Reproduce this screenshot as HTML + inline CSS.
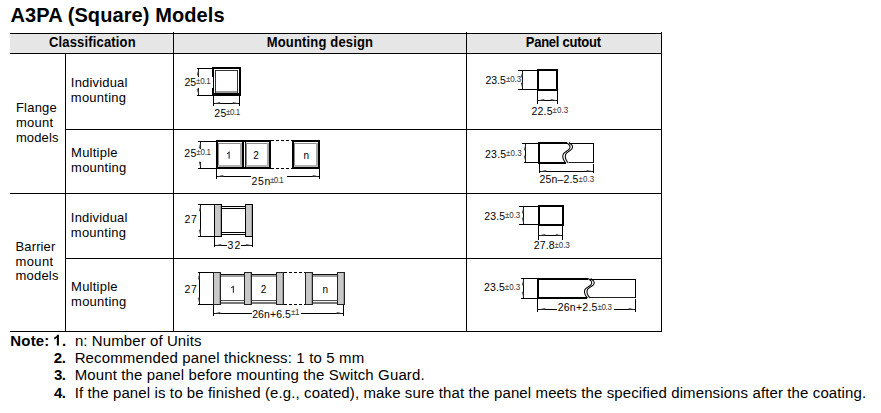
<!DOCTYPE html>
<html><head><meta charset="utf-8"><style>
html,body{margin:0;padding:0;background:#fff;width:881px;height:413px;overflow:hidden}
svg{display:block}
text{font-family:"Liberation Sans",sans-serif}
</style></head><body>
<svg width="881" height="413" viewBox="0 0 881 413">
<rect width="881" height="413" fill="#fff"/>
<g shape-rendering="crispEdges">
<rect x="10" y="34" width="651" height="19" fill="#e6e6e6"/>
<rect x="10" y="33" width="652" height="1" fill="#000"/>
<rect x="10" y="53" width="652" height="1" fill="#000"/>
<rect x="65" y="129" width="597" height="1" fill="#000"/>
<rect x="10" y="193" width="652" height="1" fill="#000"/>
<rect x="65" y="258" width="597" height="1" fill="#000"/>
<rect x="10" y="331" width="652" height="1" fill="#000"/>
<rect x="65" y="53" width="1" height="279" fill="#000"/>
<rect x="173" y="32" width="1" height="300" fill="#000"/>
<rect x="466" y="32" width="1" height="300" fill="#000"/>
<rect x="661" y="32" width="1" height="300" fill="#000"/>
<rect x="212" y="67" width="29" height="29" fill="#000"/>
<rect x="214" y="69" width="25" height="24" fill="#fff"/>
<rect x="215" y="70" width="23" height="23" fill="#333"/>
<rect x="216" y="71" width="21" height="21" fill="#fff"/>
<rect x="216" y="91" width="21" height="2" fill="#9a9a9a"/>
<rect x="212" y="77" width="1" height="11" fill="#fff"/>
<rect x="197" y="68" width="16" height="1" fill="#000"/>
<rect x="197" y="95" width="16" height="1" fill="#000"/>
<rect x="198" y="68" width="1" height="9" fill="#000"/>
<rect x="198" y="88" width="1" height="8" fill="#000"/>
<rect x="213" y="96" width="1" height="10" fill="#000"/>
<rect x="239" y="96" width="1" height="10" fill="#000"/>
<rect x="213" y="103" width="27" height="1" fill="#000"/>
<rect x="216" y="140" width="28" height="29" fill="#000"/>
<rect x="218" y="142" width="24" height="25" fill="#fff"/>
<rect x="218" y="143" width="24" height="1" fill="#8c8c8c"/>
<rect x="218" y="143" width="1" height="23" fill="#8c8c8c"/>
<rect x="240" y="143" width="2" height="23" fill="#a8a8a8"/>
<rect x="218" y="165" width="24" height="2" fill="#b4b4b4"/>
<rect x="244" y="140" width="27" height="29" fill="#000"/>
<rect x="246" y="142" width="23" height="25" fill="#fff"/>
<rect x="246" y="143" width="23" height="1" fill="#8c8c8c"/>
<rect x="246" y="143" width="1" height="23" fill="#8c8c8c"/>
<rect x="267" y="143" width="2" height="23" fill="#a8a8a8"/>
<rect x="246" y="165" width="23" height="2" fill="#b4b4b4"/>
<rect x="292" y="140" width="28" height="29" fill="#000"/>
<rect x="294" y="142" width="24" height="25" fill="#fff"/>
<rect x="294" y="143" width="24" height="1" fill="#8c8c8c"/>
<rect x="294" y="143" width="1" height="23" fill="#8c8c8c"/>
<rect x="316" y="143" width="2" height="23" fill="#a8a8a8"/>
<rect x="294" y="165" width="24" height="2" fill="#b4b4b4"/>
<rect x="244" y="142" width="1" height="25" fill="#fff"/>
<rect x="245" y="143" width="1" height="23" fill="#222"/>
<rect x="198" y="141" width="18" height="1" fill="#000"/>
<rect x="198" y="168" width="18" height="1" fill="#000"/>
<rect x="200" y="141" width="1" height="8" fill="#000"/>
<rect x="200" y="162" width="1" height="7" fill="#000"/>
<rect x="216" y="169" width="1" height="10" fill="#000"/>
<rect x="319" y="169" width="1" height="10" fill="#000"/>
<rect x="216" y="176" width="35" height="1" fill="#000"/>
<rect x="287" y="176" width="33" height="1" fill="#000"/>
<rect x="214" y="204" width="8" height="33" fill="#000"/>
<rect x="215" y="205" width="6" height="31" fill="#c8c8c8"/>
<rect x="220" y="205" width="1" height="31" fill="#9e9e9e"/>
<rect x="245" y="204" width="8" height="33" fill="#000"/>
<rect x="246" y="205" width="6" height="31" fill="#c8c8c8"/>
<rect x="251" y="205" width="1" height="31" fill="#9e9e9e"/>
<rect x="222" y="206" width="23" height="1" fill="#000"/>
<rect x="222" y="208" width="23" height="1" fill="#000"/>
<rect x="222" y="232" width="23" height="1" fill="#000"/>
<rect x="222" y="234" width="23" height="1" fill="#000"/>
<rect x="222" y="207" width="23" height="1" fill="#f4f4f4"/>
<rect x="198" y="204" width="16" height="1" fill="#000"/>
<rect x="198" y="236" width="16" height="1" fill="#000"/>
<rect x="200" y="204" width="1" height="33" fill="#000"/>
<rect x="214" y="237" width="1" height="10" fill="#000"/>
<rect x="252" y="237" width="1" height="10" fill="#000"/>
<rect x="214" y="245" width="13" height="1" fill="#000"/>
<rect x="241" y="245" width="12" height="1" fill="#000"/>
<rect x="213" y="272" width="8" height="33" fill="#222"/>
<rect x="214" y="273" width="6" height="31" fill="#c8c8c8"/>
<rect x="219" y="273" width="1" height="31" fill="#9e9e9e"/>
<rect x="244" y="272" width="8" height="33" fill="#222"/>
<rect x="245" y="273" width="6" height="31" fill="#c8c8c8"/>
<rect x="250" y="273" width="1" height="31" fill="#9e9e9e"/>
<rect x="276" y="272" width="8" height="33" fill="#222"/>
<rect x="277" y="273" width="6" height="31" fill="#c8c8c8"/>
<rect x="282" y="273" width="1" height="31" fill="#9e9e9e"/>
<rect x="305" y="272" width="8" height="33" fill="#222"/>
<rect x="306" y="273" width="6" height="31" fill="#c8c8c8"/>
<rect x="311" y="273" width="1" height="31" fill="#9e9e9e"/>
<rect x="337" y="272" width="8" height="33" fill="#222"/>
<rect x="338" y="273" width="6" height="31" fill="#c8c8c8"/>
<rect x="343" y="273" width="1" height="31" fill="#9e9e9e"/>
<rect x="221" y="274" width="23" height="1" fill="#111"/>
<rect x="221" y="275" width="23" height="2" fill="#a0a0a0"/>
<rect x="221" y="300" width="23" height="1" fill="#555"/>
<rect x="221" y="301" width="23" height="1" fill="#f0f0f0"/>
<rect x="221" y="302" width="23" height="2" fill="#777"/>
<rect x="252" y="274" width="24" height="1" fill="#111"/>
<rect x="252" y="275" width="24" height="2" fill="#a0a0a0"/>
<rect x="252" y="300" width="24" height="1" fill="#555"/>
<rect x="252" y="301" width="24" height="1" fill="#f0f0f0"/>
<rect x="252" y="302" width="24" height="2" fill="#777"/>
<rect x="313" y="274" width="24" height="1" fill="#111"/>
<rect x="313" y="275" width="24" height="2" fill="#a0a0a0"/>
<rect x="313" y="300" width="24" height="1" fill="#555"/>
<rect x="313" y="301" width="24" height="1" fill="#f0f0f0"/>
<rect x="313" y="302" width="24" height="2" fill="#777"/>
<rect x="198" y="272" width="15" height="1" fill="#000"/>
<rect x="198" y="304" width="15" height="1" fill="#000"/>
<rect x="199" y="272" width="1" height="33" fill="#000"/>
<rect x="213" y="305" width="1" height="11" fill="#000"/>
<rect x="343" y="305" width="1" height="11" fill="#000"/>
<rect x="213" y="313" width="39" height="1" fill="#000"/>
<rect x="301" y="313" width="43" height="1" fill="#000"/>
<rect x="537" y="69" width="21" height="22" fill="#000"/>
<rect x="539" y="71" width="17" height="18" fill="#fff"/>
<rect x="518" y="70" width="19" height="1" fill="#000"/>
<rect x="518" y="89" width="19" height="1" fill="#000"/>
<rect x="522" y="70" width="1" height="20" fill="#000"/>
<rect x="537" y="91" width="1" height="13" fill="#000"/>
<rect x="557" y="91" width="1" height="13" fill="#000"/>
<rect x="537" y="100" width="21" height="1" fill="#000"/>
<rect x="538" y="205" width="26" height="21" fill="#000"/>
<rect x="540" y="207" width="22" height="17" fill="#fff"/>
<rect x="519" y="206" width="19" height="1" fill="#000"/>
<rect x="519" y="224" width="19" height="1" fill="#000"/>
<rect x="523" y="206" width="1" height="19" fill="#000"/>
<rect x="538" y="226" width="1" height="14" fill="#000"/>
<rect x="562" y="226" width="1" height="14" fill="#000"/>
<rect x="538" y="235" width="25" height="1" fill="#000"/>
<rect x="538" y="142" width="2" height="22" fill="#000"/>
<rect x="538" y="142" width="28.5" height="2" fill="#000"/>
<rect x="538" y="162" width="27.5" height="2" fill="#000"/>
<rect x="568.5" y="143" width="25.5" height="1" fill="#000"/>
<rect x="568.5" y="162" width="25.5" height="1" fill="#222"/>
<rect x="593" y="143" width="1" height="20" fill="#000"/>
<rect x="522" y="143" width="16" height="1" fill="#000"/>
<rect x="524" y="162" width="14" height="1" fill="#000"/>
<rect x="525" y="143" width="1" height="20" fill="#000"/>
<rect x="539" y="164" width="1" height="9" fill="#000"/>
<rect x="593" y="164" width="1" height="9" fill="#000"/>
<rect x="539" y="171" width="55" height="1" fill="#000"/>
<rect x="537" y="278" width="2" height="21" fill="#000"/>
<rect x="537" y="278" width="51.200000000000045" height="2" fill="#000"/>
<rect x="537" y="297" width="50.200000000000045" height="2" fill="#000"/>
<rect x="590.2" y="279" width="45.799999999999955" height="1" fill="#000"/>
<rect x="590.2" y="297" width="45.799999999999955" height="1" fill="#222"/>
<rect x="635" y="279" width="1" height="19" fill="#000"/>
<rect x="521" y="278" width="16" height="1" fill="#000"/>
<rect x="521" y="298" width="16" height="1" fill="#000"/>
<rect x="523" y="278" width="1" height="20" fill="#000"/>
<rect x="537" y="299" width="1" height="13" fill="#000"/>
<rect x="635" y="299" width="1" height="13" fill="#000"/>
<rect x="538" y="309" width="19" height="1" fill="#000"/>
<rect x="614" y="309" width="22" height="1" fill="#000"/>
</g>
<path d="M198.5,69 L196.9,74.5 L197.4,75.5 L198.5,75.5 Z" stroke="none" stroke-width="1" fill="#555" />
<path d="M198.5,95 L196.9,89.5 L197.4,88.5 L198.5,88.5 Z" stroke="none" stroke-width="1" fill="#555" />
<path d="M214,103.5 L219.5,101.9 L220.5,102.4 L220.5,103.5 Z" stroke="none" stroke-width="1" fill="#555" />
<path d="M239,103.5 L233.5,101.9 L232.5,102.4 L232.5,103.5 Z" stroke="none" stroke-width="1" fill="#555" />
<path d="M271,140.5 H292 M271,168.5 H292" stroke="#000" stroke-width="1" stroke-dasharray="3,2" fill="none"/>
<path d="M200.5,142 L198.9,147.5 L199.4,148.5 L200.5,148.5 Z" stroke="none" stroke-width="1" fill="#555" />
<path d="M200.5,168 L198.9,162.5 L199.4,161.5 L200.5,161.5 Z" stroke="none" stroke-width="1" fill="#555" />
<path d="M217,176.5 L222.5,174.9 L223.5,175.4 L223.5,176.5 Z" stroke="none" stroke-width="1" fill="#555" />
<path d="M319,176.5 L313.5,174.9 L312.5,175.4 L312.5,176.5 Z" stroke="none" stroke-width="1" fill="#555" />
<path d="M200.5,205 L198.9,210.5 L199.4,211.5 L200.5,211.5 Z" stroke="none" stroke-width="1" fill="#555" />
<path d="M200.5,236 L198.9,230.5 L199.4,229.5 L200.5,229.5 Z" stroke="none" stroke-width="1" fill="#555" />
<path d="M215,245.5 L220.5,243.9 L221.5,244.4 L221.5,245.5 Z" stroke="none" stroke-width="1" fill="#555" />
<path d="M252,245.5 L246.5,243.9 L245.5,244.4 L245.5,245.5 Z" stroke="none" stroke-width="1" fill="#555" />
<path d="M284,272.5 H305 M284,304.5 H305" stroke="#000" stroke-width="1" stroke-dasharray="3,2" fill="none"/>
<path d="M199.5,273 L197.9,278.5 L198.4,279.5 L199.5,279.5 Z" stroke="none" stroke-width="1" fill="#555" />
<path d="M199.5,304 L197.9,298.5 L198.4,297.5 L199.5,297.5 Z" stroke="none" stroke-width="1" fill="#555" />
<path d="M214,313.5 L219.5,311.9 L220.5,312.4 L220.5,313.5 Z" stroke="none" stroke-width="1" fill="#555" />
<path d="M343,313.5 L337.5,311.9 L336.5,312.4 L336.5,313.5 Z" stroke="none" stroke-width="1" fill="#555" />
<path d="M522.5,71 L520.9,76.5 L521.4,77.5 L522.5,77.5 Z" stroke="none" stroke-width="1" fill="#555" />
<path d="M522.5,89 L520.9,83.5 L521.4,82.5 L522.5,82.5 Z" stroke="none" stroke-width="1" fill="#555" />
<path d="M538,100.5 L543.5,98.9 L544.5,99.4 L544.5,100.5 Z" stroke="none" stroke-width="1" fill="#555" />
<path d="M557,100.5 L551.5,98.9 L550.5,99.4 L550.5,100.5 Z" stroke="none" stroke-width="1" fill="#555" />
<path d="M523.5,207 L521.9,212.5 L522.4,213.5 L523.5,213.5 Z" stroke="none" stroke-width="1" fill="#555" />
<path d="M523.5,224 L521.9,218.5 L522.4,217.5 L523.5,217.5 Z" stroke="none" stroke-width="1" fill="#555" />
<path d="M539,235.5 L544.5,233.9 L545.5,234.4 L545.5,235.5 Z" stroke="none" stroke-width="1" fill="#555" />
<path d="M562,235.5 L556.5,233.9 L555.5,234.4 L555.5,235.5 Z" stroke="none" stroke-width="1" fill="#555" />
<path d="M566.50,142.50 C566.98,142.94 568.82,144.33 569.40,145.11 C569.98,145.90 570.08,146.50 570.00,147.22 C569.92,147.94 569.48,148.76 568.90,149.43 C568.32,150.10 567.32,150.62 566.50,151.24 C565.68,151.86 564.60,152.48 564.00,153.15 C563.40,153.82 563.07,154.42 562.90,155.26 C562.73,156.10 562.75,157.19 563.00,158.18 C563.25,159.16 563.93,160.39 564.40,161.19 C564.87,162.00 565.57,162.70 565.80,163.00" stroke="#000" stroke-width="1.05" fill="none" />
<path d="M569.00,142.50 C569.48,142.94 571.32,144.33 571.90,145.11 C572.48,145.90 572.58,146.50 572.50,147.22 C572.42,147.94 571.98,148.76 571.40,149.43 C570.82,150.10 569.82,150.62 569.00,151.24 C568.18,151.86 567.10,152.48 566.50,153.15 C565.90,153.82 565.57,154.42 565.40,155.26 C565.23,156.10 565.25,157.19 565.50,158.18 C565.75,159.16 566.43,160.39 566.90,161.19 C567.37,162.00 568.07,162.70 568.30,163.00" stroke="#000" stroke-width="1.05" fill="none" />
<path d="M525.5,144 L523.9,149.5 L524.4,150.5 L525.5,150.5 Z" stroke="none" stroke-width="1" fill="#555" />
<path d="M525.5,162 L523.9,156.5 L524.4,155.5 L525.5,155.5 Z" stroke="none" stroke-width="1" fill="#555" />
<path d="M540,171.5 L545.5,169.9 L546.5,170.4 L546.5,171.5 Z" stroke="none" stroke-width="1" fill="#555" />
<path d="M593,171.5 L587.5,169.9 L586.5,170.4 L586.5,171.5 Z" stroke="none" stroke-width="1" fill="#555" />
<path d="M588.20,278.50 C588.68,278.91 590.52,280.24 591.10,280.99 C591.68,281.73 591.78,282.31 591.70,282.99 C591.62,283.68 591.18,284.46 590.60,285.10 C590.02,285.73 589.02,286.23 588.20,286.82 C587.38,287.41 586.30,288.00 585.70,288.63 C585.10,289.27 584.77,289.84 584.60,290.64 C584.43,291.44 584.45,292.47 584.70,293.41 C584.95,294.35 585.63,295.51 586.10,296.28 C586.57,297.04 587.27,297.71 587.50,298.00" stroke="#000" stroke-width="1.05" fill="none" />
<path d="M590.70,278.50 C591.18,278.91 593.02,280.24 593.60,280.99 C594.18,281.73 594.28,282.31 594.20,282.99 C594.12,283.68 593.68,284.46 593.10,285.10 C592.52,285.73 591.52,286.23 590.70,286.82 C589.88,287.41 588.80,288.00 588.20,288.63 C587.60,289.27 587.27,289.84 587.10,290.64 C586.93,291.44 586.95,292.47 587.20,293.41 C587.45,294.35 588.13,295.51 588.60,296.28 C589.07,297.04 589.77,297.71 590.00,298.00" stroke="#000" stroke-width="1.05" fill="none" />
<path d="M523.5,279 L521.9,284.5 L522.4,285.5 L523.5,285.5 Z" stroke="none" stroke-width="1" fill="#555" />
<path d="M523.5,298 L521.9,292.5 L522.4,291.5 L523.5,291.5 Z" stroke="none" stroke-width="1" fill="#555" />
<path d="M539,309.5 L544.5,307.9 L545.5,308.4 L545.5,309.5 Z" stroke="none" stroke-width="1" fill="#555" />
<path d="M635,309.5 L629.5,307.9 L628.5,308.4 L628.5,309.5 Z" stroke="none" stroke-width="1" fill="#555" />
<g fill="#000">
<text transform="translate(10.50 22.00) scale(1 1.04)" font-size="20" font-weight="bold" letter-spacing="0.105">A3PA (Square) Models</text>
<text transform="translate(49.00 46.80) scale(1 1.07)" font-size="13" font-weight="bold" letter-spacing="0.165">Classification</text>
<text transform="translate(266.75 46.80) scale(1 1.07)" font-size="13" font-weight="bold" letter-spacing="0.171">Mounting design</text>
<text transform="translate(525.75 46.80) scale(1 1.07)" font-size="13" font-weight="bold" letter-spacing="-0.241">Panel cutout</text>
<text transform="translate(15.90 111.70) scale(1 1.05)" font-size="13" letter-spacing="0.230">Flange</text>
<text transform="translate(15.90 126.90) scale(1 1.05)" font-size="13" letter-spacing="0.287">mount</text>
<text transform="translate(15.90 142.30) scale(1 1.05)" font-size="13" letter-spacing="0.130">models</text>
<text transform="translate(15.60 250.50) scale(1 1.05)" font-size="13" letter-spacing="0.108">Barrier</text>
<text transform="translate(15.60 265.50) scale(1 1.05)" font-size="13" letter-spacing="0.362">mount</text>
<text transform="translate(15.60 280.40) scale(1 1.05)" font-size="13" letter-spacing="0.190">models</text>
<text transform="translate(70.85 86.70) scale(1 1.05)" font-size="13" letter-spacing="0.189">Individual</text>
<text transform="translate(70.85 102.30) scale(1 1.05)" font-size="13" letter-spacing="0.243">mounting</text>
<text transform="translate(71.10 156.70) scale(1 1.05)" font-size="13" letter-spacing="0.236">Multiple</text>
<text transform="translate(71.10 172.30) scale(1 1.05)" font-size="13" letter-spacing="0.243">mounting</text>
<text transform="translate(70.85 221.50) scale(1 1.05)" font-size="13" letter-spacing="0.189">Individual</text>
<text transform="translate(70.85 236.80) scale(1 1.05)" font-size="13" letter-spacing="0.243">mounting</text>
<text transform="translate(71.10 290.80) scale(1 1.05)" font-size="13" letter-spacing="0.236">Multiple</text>
<text transform="translate(71.10 305.80) scale(1 1.05)" font-size="13" letter-spacing="0.243">mounting</text>
<text transform="translate(10.30 345.60) scale(1 1.03)" font-size="15" font-weight="bold" letter-spacing="0.175">Note:</text>
<text transform="translate(61.90 345.60) scale(1 1.03)" font-size="15" font-weight="bold">.</text>
<text transform="translate(74.90 345.60) scale(1 1.03)" font-size="15" letter-spacing="0.094">n: Number of Units</text>
<text transform="translate(53.70 362.80) scale(1 1.03)" font-size="15" font-weight="bold" letter-spacing="-0.400">2.</text>
<text transform="translate(74.65 362.80) scale(1 1.03)" font-size="15" letter-spacing="0.145">Recommended panel thickness: 1 to 5 mm</text>
<text transform="translate(53.95 380.30) scale(1 1.03)" font-size="15" font-weight="bold" letter-spacing="-0.650">3.</text>
<text transform="translate(74.65 380.30) scale(1 1.03)" font-size="15" letter-spacing="0.138">Mount the panel before mounting the Switch Guard.</text>
<text transform="translate(53.95 397.60) scale(1 1.03)" font-size="15" font-weight="bold" letter-spacing="-0.650">4.</text>
<text transform="translate(74.65 397.60) scale(1 1.03)" font-size="15" letter-spacing="0.116">If the panel is to be finished (e.g., coated), make sure that the panel meets the specified dimensions after the coating.</text>
<text transform="translate(184.50 85.50) scale(1 1.03)" font-size="10.5" letter-spacing="-0.050">25</text>
<text transform="translate(196.05 84.00) scale(1 1.15)" font-size="8" letter-spacing="-0.300" fill="#333">±0.1</text>
<text transform="translate(214.20 116.70) scale(1 1.03)" font-size="10.5" letter-spacing="0.350">25</text>
<text transform="translate(226.05 115.00) scale(1 1.15)" font-size="8" letter-spacing="-0.433" fill="#333">±0.1</text>
<text transform="translate(184.30 156.50) scale(1 1.03)" font-size="10.5" letter-spacing="0.450">25</text>
<text transform="translate(196.35 154.90) scale(1 1.15)" font-size="8" letter-spacing="-0.267" fill="#333">±0.1</text>
<text transform="translate(253.30 158.70) scale(1 1.03)" font-size="10">2</text>
<text transform="translate(303.40 158.80) scale(1 1.03)" font-size="10">n</text>
<text transform="translate(251.60 184.60) scale(1 1.03)" font-size="10.5" letter-spacing="0.600">25n</text>
<text transform="translate(270.05 182.90) scale(1 1.15)" font-size="8" letter-spacing="-0.600" fill="#333">±0.1</text>
<text transform="translate(184.50 222.70) scale(1 1.03)" font-size="10.5" letter-spacing="0.550">27</text>
<text transform="translate(227.40 248.70) scale(1 1.03)" font-size="10.5" letter-spacing="1.150">32</text>
<text transform="translate(184.40 292.50) scale(1 1.03)" font-size="10.5" letter-spacing="0.650">27</text>
<text transform="translate(260.80 292.80) scale(1 1.03)" font-size="10">2</text>
<text transform="translate(322.50 292.60) scale(1 1.03)" font-size="10">n</text>
<text transform="translate(252.20 317.60) scale(1 1.03)" font-size="10.5" letter-spacing="0.083">26n+6.5</text>
<text transform="translate(291.05 315.30) scale(1 1.15)" font-size="8" letter-spacing="-0.350" fill="#333">±1</text>
<text transform="translate(485.40 83.60) scale(1 1.03)" font-size="10.5">23.5</text>
<text transform="translate(506.05 81.80) scale(1 1.15)" font-size="8" letter-spacing="-0.133" fill="#333">±0.3</text>
<text transform="translate(531.40 114.70) scale(1 1.03)" font-size="10.5" letter-spacing="0.267">22.5</text>
<text transform="translate(552.55 112.80) scale(1 1.15)" font-size="8" letter-spacing="0.033" fill="#333">±0.3</text>
<text transform="translate(485.00 157.70) scale(1 1.03)" font-size="10.5" letter-spacing="0.267">23.5</text>
<text transform="translate(506.05 155.80) scale(1 1.15)" font-size="8" letter-spacing="0.067" fill="#333">±0.3</text>
<text transform="translate(539.40 183.40) scale(1 1.03)" font-size="10.5" letter-spacing="0.183">25n–2.5</text>
<text transform="translate(578.55 181.60) scale(1 1.15)" font-size="8" letter-spacing="0.067" fill="#333">±0.3</text>
<text transform="translate(484.20 219.70) scale(1 1.03)" font-size="10.5" letter-spacing="0.133">23.5</text>
<text transform="translate(504.95 218.00) scale(1 1.15)" font-size="8" letter-spacing="-0.067" fill="#333">±0.3</text>
<text transform="translate(533.80 249.30) scale(1 1.03)" font-size="10.5" letter-spacing="0.167">27.8</text>
<text transform="translate(554.55 247.50) scale(1 1.15)" font-size="8" letter-spacing="-0.100" fill="#333">±0.3</text>
<text transform="translate(484.00 291.30) scale(1 1.03)" font-size="10.5" letter-spacing="0.167">23.5</text>
<text transform="translate(504.75 289.50) scale(1 1.15)" font-size="8" fill="#333">±0.3</text>
<text transform="translate(557.70 311.40) scale(1 1.03)" font-size="10.5" letter-spacing="0.250">26n+2.5</text>
<text transform="translate(597.45 309.60) scale(1 1.15)" font-size="8" letter-spacing="-0.333" fill="#333">±0.3</text>
<path transform="translate(52.874 345.6) scale(0.007324 -0.007617)" d="M825 0L544 0L544 1018Q390 879 181 813L181 1058Q291 1093 420 1189Q549 1285 597 1409L825 1409Z"/>
<path transform="translate(225.821 158.7) scale(0.004883 -0.005078)" d="M763 0L583 0L583 1100Q518 1040 412 980Q306 920 221 890L221 1057Q372 1125 485 1222Q598 1319 645 1409L763 1409Z"/>
<path transform="translate(230.021 292.8) scale(0.004883 -0.005078)" d="M763 0L583 0L583 1100Q518 1040 412 980Q306 920 221 890L221 1057Q372 1125 485 1222Q598 1319 645 1409L763 1409Z"/>
</g>
</svg>
</body></html>
